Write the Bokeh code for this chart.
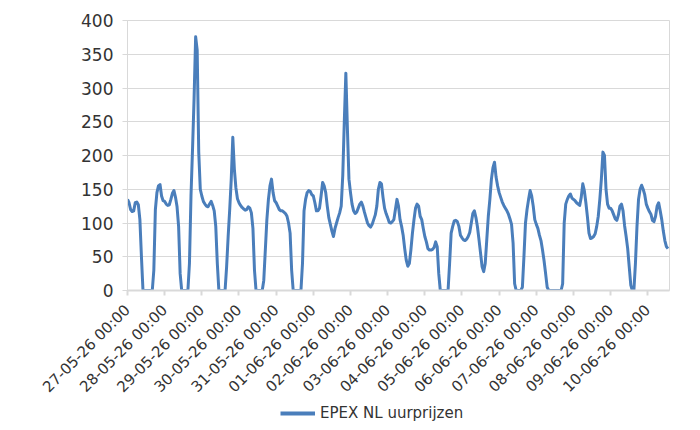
import math
from bokeh.plotting import figure
from bokeh.layouts import column
from bokeh.models import Range1d, FixedTicker, Legend, LegendItem, ColumnDataSource
from bokeh.embed import file_html
from bokeh.resources import INLINE

# Tick labels (one per day, at 00:00)
day_labels = ["27-05-26 00:00", "28-05-26 00:00", "29-05-26 00:00", "30-05-26 00:00",
              "31-05-26 00:00", "01-06-26 00:00", "02-06-26 00:00", "03-06-26 00:00",
              "04-06-26 00:00", "05-06-26 00:00", "06-06-26 00:00", "07-06-26 00:00",
              "08-06-26 00:00", "09-06-26 00:00", "10-06-26 00:00"]

# Hourly prices (EUR/MWh) per day
d27_05 = [135, 130, 120, 117, 118, 130, 131, 127, 105, 50, 0, 0, 0, 0, 0, 0, 0, 30, 120, 145, 155, 157, 140, 133]
d28_05 = [132, 128, 126, 127, 135, 144, 148, 138, 124, 95, 25, 0, 0, 0, 0, 0, 40, 140, 210, 285, 376, 356, 205, 150]
d29_05 = [140, 132, 128, 125, 124, 128, 132, 126, 118, 95, 40, 0, 0, 0, 0, 0, 35, 80, 120, 165, 227, 180, 152, 136]
d30_05 = [130, 126, 123, 121, 119, 120, 124, 122, 115, 92, 30, 0, 0, 0, 0, 0, 15, 60, 105, 135, 155, 165, 145, 133]
d31_05 = [130, 125, 120, 118, 118, 116, 114, 110, 100, 85, 30, 0, 0, 0, 0, 0, 0, 40, 118, 135, 145, 148, 147, 142]
d01_06 = [140, 130, 118, 118, 122, 140, 160, 155, 145, 125, 108, 98, 88, 80, 92, 100, 108, 115, 125, 170, 250, 322, 240, 165]
d02_06 = [145, 128, 118, 114, 116, 122, 128, 131, 125, 116, 108, 100, 96, 94, 98, 105, 112, 125, 150, 160, 158, 138, 122, 114]
d03_06 = [108, 101, 100, 102, 105, 120, 135, 125, 105, 95, 82, 62, 45, 36, 40, 60, 85, 105, 122, 128, 125, 110, 105, 92]
d04_06 = [80, 72, 62, 60, 60, 61, 64, 72, 65, 25, 0, 0, 0, 0, 0, 0, 40, 85, 95, 103, 104, 102, 95, 82]
d05_06 = [78, 75, 74, 76, 80, 86, 100, 114, 118, 108, 94, 75, 55, 35, 28, 40, 75, 110, 135, 165, 182, 190, 168, 155]
d06_06 = [145, 138, 131, 126, 122, 118, 113, 106, 98, 70, 10, 0, 0, 0, 0, 5, 50, 100, 120, 135, 148, 140, 125, 105]
d07_06 = [98, 92, 82, 74, 60, 44, 25, 5, 0, 0, 0, 0, 0, 0, 0, 0, 0, 10, 100, 128, 135, 140, 143, 137]
d08_06 = [135, 133, 130, 128, 126, 138, 158, 148, 130, 109, 85, 77, 78, 80, 84, 95, 110, 135, 165, 205, 200, 150, 128, 122]
d09_06 = [122, 118, 112, 106, 104, 112, 125, 128, 118, 96, 80, 62, 35, 8, 0, 0, 40, 95, 135, 150, 156, 150, 142, 128]
d10_06 = [122, 117, 113, 104, 102, 110, 125, 130, 118, 105, 88, 74, 65, 62]

series_name = "EPEX NL uurprijzen"

prices = (d27_05 + d28_05 + d29_05 + d30_05 + d31_05 + d01_06 + d02_06 + d03_06 +
          d04_06 + d05_06 + d06_06 + d07_06 + d08_06 + d09_06 + d10_06)
hours = list(range(len(prices)))
source = ColumnDataSource(data=dict(hour=hours, price=prices))

FONT = "DejaVu Sans"
GRID = "#d9d9d9"
TEXT = "#333333"
LINE = "#4A7EBB"

p = figure(width=700, height=405, output_backend="svg", toolbar_location=None,
           x_range=Range1d(0, 350), y_range=Range1d(0, 400),
           min_border_left=127, min_border_right=31, min_border_top=20,
           min_border_bottom=115, background_fill_color="white",
           border_fill_color="white")

r = p.line("hour", "price", source=source, line_color=LINE, line_width=3,
           line_join="round")

# grid / outline
p.xgrid.visible = False
p.ygrid.grid_line_color = GRID
p.ygrid.grid_line_width = 1
p.outline_line_color = GRID
p.outline_line_width = 1

# x axis
p.xaxis.ticker = FixedTicker(ticks=[24 * i for i in range(len(day_labels))])
p.xaxis.major_label_overrides = {24 * i: lab for i, lab in enumerate(day_labels)}
p.xaxis.major_label_orientation = math.pi / 4
p.xaxis.axis_line_color = GRID
p.xaxis.axis_line_width = 2
p.xaxis.major_tick_line_color = GRID
p.xaxis.major_tick_line_width = 2
p.xaxis.major_tick_out = 5
p.xaxis.major_tick_in = 0
p.xaxis.major_label_standoff = 12
p.xaxis.major_label_text_font = FONT
p.xaxis.major_label_text_font_size = "15px"
p.xaxis.major_label_text_color = TEXT

# y axis
p.yaxis.ticker = FixedTicker(ticks=list(range(0, 401, 50)))
p.yaxis.axis_line_color = GRID
p.yaxis.axis_line_width = 1
p.yaxis.major_tick_line_color = GRID
p.yaxis.major_tick_out = 5
p.yaxis.major_tick_in = 0
p.yaxis.major_label_standoff = 9
p.yaxis.major_label_text_font = FONT
p.yaxis.major_label_text_font_size = "17px"
p.yaxis.major_label_text_color = TEXT

p.axis.minor_tick_line_color = None

# legend strip below the chart (key line kept outside the strip's visible range)
pl = figure(width=700, height=25, output_backend="svg", toolbar_location=None,
            x_range=Range1d(0, 1), y_range=Range1d(0, 1),
            x_axis_location=None, y_axis_location=None, min_border=0,
            background_fill_color="white", border_fill_color="white")
pl.grid.visible = False
pl.outline_line_color = None
key = pl.line(x=[-5, -4], y=[-5, -5], line_color=LINE, line_width=4)

legend = Legend(items=[LegendItem(label=series_name, renderers=[key])],
                location=(153, 8), orientation="horizontal",
                glyph_width=35, glyph_height=12, label_height=12,
                label_standoff=5,
                label_text_font=FONT, label_text_font_size="15px",
                label_text_color=TEXT, border_line_color=None,
                background_fill_alpha=0, padding=0, margin=0, spacing=0)
pl.add_layout(legend)

layout = column(p, pl, spacing=0)
open("out.html", "w").write(file_html(layout, INLINE))
